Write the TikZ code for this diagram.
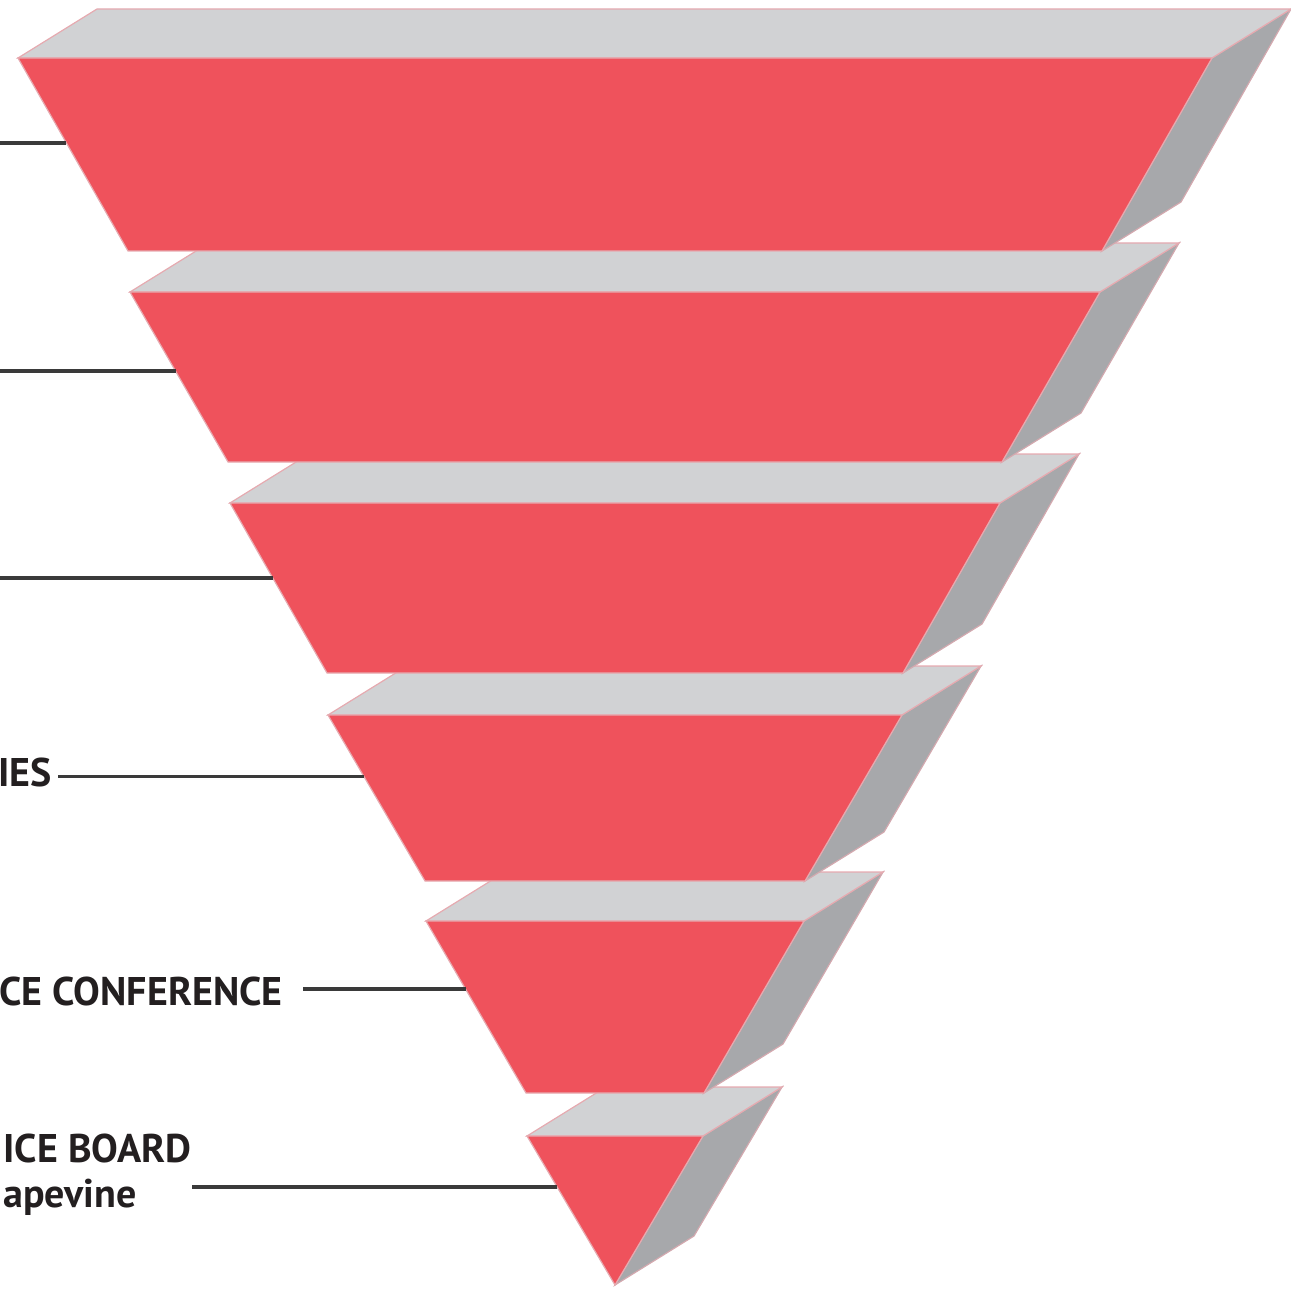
\documentclass[tikz,border=0pt]{standalone}
\usepackage{fontspec}
\setsansfont{PT Sans}
\usetikzlibrary{calc}
\definecolor{slicered}{RGB}{239,82,92}
\definecolor{toplight}{RGB}{209,210,212}
\definecolor{sidedark}{RGB}{167,168,171}
\definecolor{rimpink}{RGB}{230,170,176}
\definecolor{inkdark}{RGB}{35,31,32}
\definecolor{leadgrey}{RGB}{58,58,58}

\begin{document}
\begin{tikzpicture}[x=0.5pt,y=-0.5pt,line join=miter]
  \tikzstyle{front}=[fill=slicered,draw=rimpink,line width=0.6pt]
  \tikzstyle{topface}=[fill=toplight,draw=rimpink,line width=0.6pt]
  \tikzstyle{sideface}=[fill=sidedark,draw=rimpink!70!sidedark,line width=0.6pt]
  \tikzstyle{lbl}=[inner sep=0pt,text=inkdark,font=\sffamily\bfseries\fontsize{20}{22.5}\selectfont]
  \tikzstyle{lead}=[draw=leadgrey,line width=1.9pt]
  \useasboundingbox (0,0) rectangle (1291,1289);

  % slices, lowest first so that each upper one overlaps the next
  \foreach \n/\yt/\yb/\wt/\wb/\f in {6/1136/1285/88/0/0.34, 5/921/1093/189/89/0.395,
      4/715/881/287/190/0.37, 3/503/673/385/288/0.44,
      2/292/462/485/387/0.465, 1/58/251/597/487/0.44} {
    \coordinate (tl\n) at (615-\wt,\yt);
    \coordinate (tr\n) at (615+\wt,\yt);
    \coordinate (bl\n) at (615-\wb,\yb);
    \coordinate (br\n) at (615+\wb,\yb);
    \coordinate (p\n) at ($(tl\n)!\f!(bl\n)$);
    \draw[sideface] (tr\n) -- ++(79,-49) -- ($(br\n)+(79,-49)$) -- (br\n) -- cycle;
    \draw[topface] (tl\n) -- ++(79,-49) -- ($(tr\n)+(79,-49)$) -- (tr\n) -- cycle;
    \draw[front] (tl\n) -- (tr\n) -- (br\n) -- (bl\n) -- cycle;
  }

  % labels and leader lines
  \coordinate (o) at (0,0);
  \node[lbl,anchor=base east,inner xsep=3pt] (t4) at (58,786) {IES};
  \node[lbl,anchor=base east,inner xsep=10pt] (t5) at (303,1005) {CE CONFERENCE};
  \node[lbl,anchor=north east,align=left] (t6) at (192,1134) {ICE BOARD\\apevine};

  \draw[lead] (p1 -| o) -- (p1);
  \draw[lead] (p2 -| o) -- (p2);
  \draw[lead] (p3 -| o) -- (p3);
  \draw[lead] (p4 -| t4.east) -- (p4);
  \draw[lead] (p5 -| t5.east) -- (p5);
  \draw[lead] (p6 -| t6.east) -- (p6);
\end{tikzpicture}
\end{document}
